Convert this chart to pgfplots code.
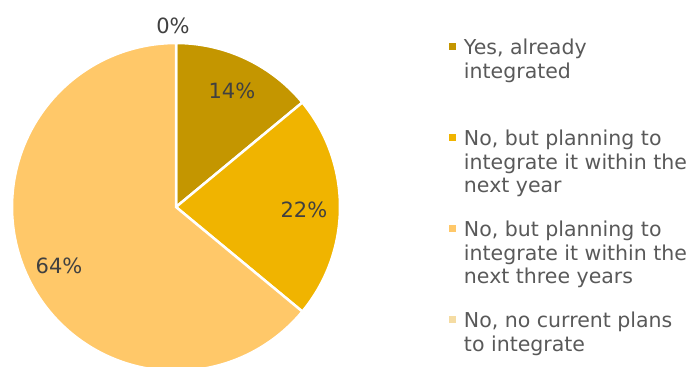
\documentclass[border=0pt]{standalone}
\usepackage{fontspec}
\setmainfont{DejaVu Sans}
\usepackage{pgfplots}
\pgfplotsset{compat=1.18}
\definecolor{cA}{HTML}{C49600}
\definecolor{cB}{HTML}{F0B400}
\definecolor{cC}{HTML}{FFC869}
\definecolor{cD}{HTML}{F5DCA3}
\definecolor{txt}{HTML}{404040}
\definecolor{leg}{HTML}{595959}
% shares in percent
\def\vA{14}
\def\vB{22}
\def\vC{64}
\def\vD{0}
\begin{document}
\begin{tikzpicture}
\path[use as bounding box] (0,0) rectangle (694pt,367pt);
\pgfmathsetmacro\aA{90}
\pgfmathsetmacro\aB{\aA-3.6*\vA}
\pgfmathsetmacro\aC{\aB-3.6*\vB}
\pgfmathsetmacro\aD{\aC-3.6*\vC}
\begin{axis}[at={(12pt,-4pt)}, anchor=south west, scale only axis,
  width=328pt, height=328pt, hide axis,
  xmin=-1, xmax=1, ymin=-1, ymax=1, clip=false,
  legend style={at={(1.3323,1.0136)}, anchor=north west, draw=none, fill=none,
    inner sep=0pt, outer sep=0pt, font=\fontsize{20.5}{23.5}\selectfont,
    text=leg, column sep=8pt, row sep=73pt,
    cells={anchor=base west}, nodes={inner sep=0pt}},
  legend image code/.code={\fill[#1,draw=none] (0pt,4.5pt) rectangle (7pt,11.5pt);},
]
\addplot[fill=cA, draw=white, line width=2.5pt, domain=\aB:\aA, samples=60, variable=\t]
  ({cos(\t)},{sin(\t)}) -- (axis cs:0,0) -- cycle;
\addlegendentry{\parbox[t]{230pt}{\strut Yes, already\\integrated}}
\addplot[fill=cB, draw=white, line width=2.5pt, domain=\aC:\aB, samples=60, variable=\t]
  ({cos(\t)},{sin(\t)}) -- (axis cs:0,0) -- cycle;
\addlegendentry{\parbox[t]{230pt}{\strut No, but planning to\\integrate it within the\\next year}}
\addplot[fill=cC, draw=white, line width=2.5pt, domain=\aD:\aC, samples=120, variable=\t]
  ({cos(\t)},{sin(\t)}) -- (axis cs:0,0) -- cycle;
\addlegendentry{\parbox[t]{230pt}{\strut No, but planning to\\integrate it within the\\next three years}}
\addlegendimage{fill=cD}
\addlegendentry{\parbox[t]{230pt}{\strut No, no current plans\\to integrate}}
\begin{scope}[every node/.style={text=txt, font=\fontsize{21}{24}\selectfont}]
\node at (axis cs:0.341,0.710) {14\%};
\node at (axis cs:0.780,-0.018) {22\%};
\node at (axis cs:-0.713,-0.360) {64\%};
\node at (axis cs:-0.018,1.107) {0\%};
\end{scope}
\end{axis}
\end{tikzpicture}
\end{document}
